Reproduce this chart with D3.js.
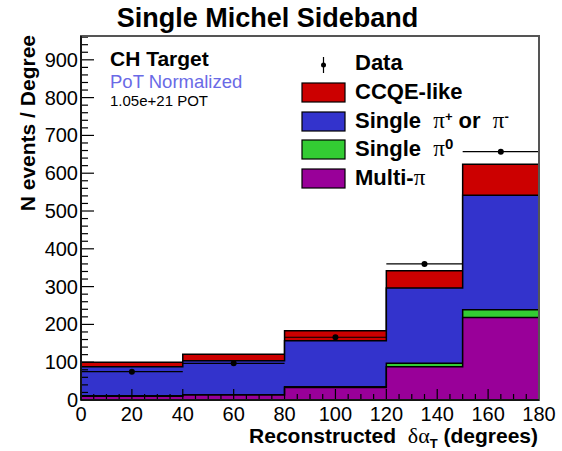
<!DOCTYPE html>
<html>
<head>
<meta charset="utf-8">
<script src="https://cdn.jsdelivr.net/npm/d3@7"></script>
<style>
  html, body { margin: 0; padding: 0; background: #fff; }
  svg { display: block; }
  text { font-family: "Liberation Sans", Arial, Helvetica, sans-serif; }
</style>
</head>
<body>
<svg id="chart" width="562" height="451"></svg>
<script>
// ---------------- data ----------------
const binEdges   = [0, 40, 80, 120, 150, 180];
const multiPi    = [10, 13, 33, 88, 218];
const singlePi0  = [1, 1, 2, 9, 21];
const singlePiPM = [77, 90, 122, 199, 303];
const ccqeLike   = [12, 17, 26, 46, 82];
const dataX      = [20, 60, 100, 135, 165];
const dataY      = [75, 97, 166, 360, 657];
const dataErr    = [1.4, 1.6, 2.0, 3.5, 4.7];
const xTicks     = [0, 20, 40, 60, 80, 100, 120, 140, 160, 180];
const yTicks     = [0, 100, 200, 300, 400, 500, 600, 700, 800, 900];

const layers = [
  { name: "Multi-π",   vals: multiPi,    color: "#990099" },
  { name: "Single π0", vals: singlePi0,  color: "#33cc33" },
  { name: "Single π±", vals: singlePiPM, color: "#3333cc" },
  { name: "CCQE-like", vals: ccqeLike,   color: "#cc0000" }
];

const greekFont = "'Liberation Serif', 'Times New Roman', serif";

// ---------------- layout ----------------
const svg = d3.select("#chart");
const L = 81, R = 539, T = 36, B = 400;
const x = d3.scaleLinear().domain([0, 180]).range([L, R]);
const y = d3.scaleLinear().domain([0, 963]).range([B, T]);

// cumulative stacks
const nb = binEdges.length - 1;
let cum = new Array(nb).fill(0);
const stacks = layers.map(l => {
  const lo = cum.slice();
  cum = cum.map((c, i) => c + l.vals[i]);
  return { ...l, lo, hi: cum.slice() };
});

function stepPath(hi) {
  let p = `M${x(binEdges[0])},${y(0)}`;
  for (let i = 0; i < nb; i++) {
    p += `L${x(binEdges[i])},${y(hi[i])}L${x(binEdges[i + 1])},${y(hi[i])}`;
  }
  p += `L${x(binEdges[nb])},${y(0)}Z`;
  return p;
}
const g = svg.append("g");
stacks.slice().reverse().forEach(s => {
  g.append("path")
    .attr("d", stepPath(s.hi))
    .attr("fill", s.color)
    .attr("stroke", "#000")
    .attr("stroke-width", 1.5)
    .attr("stroke-linejoin", "miter");
});

// data points
const dg = svg.append("g");
dataY.forEach((v, i) => {
  dg.append("line")
    .attr("x1", x(binEdges[i])).attr("x2", x(binEdges[i + 1]))
    .attr("y1", y(v)).attr("y2", y(v))
    .attr("stroke", "#000").attr("stroke-width", 1.2);
  dg.append("line")
    .attr("x1", x(dataX[i])).attr("x2", x(dataX[i]))
    .attr("y1", y(v - dataErr[i])).attr("y2", y(v + dataErr[i]))
    .attr("stroke", "#000").attr("stroke-width", 1.2);
  dg.append("circle")
    .attr("cx", x(dataX[i])).attr("cy", y(v)).attr("r", 3)
    .attr("fill", "#000");
});

// ---------------- axes ----------------
const ax = svg.append("g");
d3.range(0, 961, 20).forEach(v => {
  const major = v % 100 === 0;
  ax.append("line")
    .attr("x1", L).attr("x2", L + (major ? 13 : 7))
    .attr("y1", y(v)).attr("y2", y(v))
    .attr("stroke", "#000").attr("stroke-width", 1.2);
});
yTicks.forEach(v => {
  ax.append("text")
    .attr("x", 78).attr("y", y(v) + 7)
    .attr("text-anchor", "end")
    .attr("font-size", 20)
    .text(v);
});
d3.range(0, 181, 5).forEach(v => {
  const major = v % 20 === 0;
  ax.append("line")
    .attr("x1", x(v)).attr("x2", x(v))
    .attr("y1", B).attr("y2", B - (major ? 11 : 6))
    .attr("stroke", "#000").attr("stroke-width", 1.2);
});
xTicks.forEach(v => {
  ax.append("text")
    .attr("x", x(v)).attr("y", 421)
    .attr("text-anchor", "middle")
    .attr("font-size", 20)
    .text(v);
});

// frame
svg.append("rect")
  .attr("x", L).attr("y", T).attr("width", R - L).attr("height", B - T)
  .attr("fill", "none").attr("stroke", "#555").attr("stroke-width", 2);
svg.append("line").attr("x1", L).attr("x2", L).attr("y1", T).attr("y2", B)
  .attr("stroke", "#000").attr("stroke-width", 1.5);
svg.append("line").attr("x1", L).attr("x2", R).attr("y1", B).attr("y2", B)
  .attr("stroke", "#000").attr("stroke-width", 1.5);

// title
svg.append("text")
  .attr("x", 267.5).attr("y", 27)
  .attr("text-anchor", "middle")
  .attr("font-size", 27).attr("font-weight", "bold")
  .text("Single Michel Sideband");

// y title
svg.append("text")
  .attr("transform", "translate(35,35) rotate(-90)")
  .attr("text-anchor", "end")
  .attr("font-size", 21).attr("font-weight", "bold")
  .text("N events / Degree");

// x title
const xt = svg.append("text")
  .attr("x", 538).attr("y", 443)
  .attr("text-anchor", "end")
  .attr("font-size", 21).attr("font-weight", "bold")
  .attr("xml:space", "preserve");
xt.append("tspan").text("Reconstructed  ");
xt.append("tspan").attr("font-weight", "normal").attr("font-family", greekFont).attr("font-size", 22).text("δα");
xt.append("tspan").attr("font-size", 13).attr("dy", 5).text("T");
xt.append("tspan").attr("dy", -5).text(" (degrees)");

// top-left info
svg.append("text").attr("x", 110).attr("y", 66)
  .attr("font-size", 21).attr("font-weight", "bold").text("CH Target");
svg.append("text").attr("x", 110).attr("y", 88)
  .attr("font-size", 18.5).attr("fill", "#6a6ae6").text("PoT Normalized");
svg.append("text").attr("x", 110).attr("y", 106)
  .attr("font-size", 15).text("1.05e+21 POT");

// legend
const lg = svg.append("g");
const boxX = 302, boxW = 43, boxH = 19, textX = 355;
lg.append("line").attr("x1", boxX + boxW / 2).attr("x2", boxX + boxW / 2)
  .attr("y1", 57).attr("y2", 73).attr("stroke", "#000").attr("stroke-width", 1.2);
lg.append("circle").attr("cx", boxX + boxW / 2).attr("cy", 65).attr("r", 2.5).attr("fill", "#000");
lg.append("text").attr("x", textX).attr("y", 70)
  .attr("font-size", 22).attr("font-weight", "bold").text("Data");

const legendRows = [
  { layer: 3, y: 83, label: [["CCQE-like", null]] },
  { layer: 2, y: 112, label: [["Single  ", null], ["π", "pi"], ["+", "sup"], [" or  ", null], ["π", "pi"], ["-", "sup"]] },
  { layer: 1, y: 140, label: [["Single  ", null], ["π", "pi"], ["0", "sup0"]] },
  { layer: 0, y: 169, label: [["Multi-", null], ["π", "pi"]] }
];
legendRows.forEach(r => {
  lg.append("rect").attr("x", boxX).attr("y", r.y).attr("width", boxW).attr("height", boxH)
    .attr("fill", layers[r.layer].color).attr("stroke", "#000").attr("stroke-width", 1.2);
  const t = lg.append("text").attr("x", textX).attr("y", r.y + 16)
    .attr("font-size", 22).attr("font-weight", "bold")
    .attr("xml:space", "preserve").style("white-space", "pre");
  let shifted = false;
  r.label.forEach(([s, kind]) => {
    const ts = t.append("tspan").text(s);
    if (kind === "pi") {
      ts.attr("font-weight", "normal").attr("font-family", greekFont).attr("font-size", 23);
      if (shifted) { ts.attr("dy", 7); shifted = false; }
    } else if (kind === "sup" || kind === "sup0") {
      ts.attr("font-size", kind === "sup0" ? 15 : 13).attr("dy", -7);
      shifted = true;
    } else {
      if (shifted) { ts.attr("dy", 7); shifted = false; }
    }
  });
});
</script>
</body>
</html>
